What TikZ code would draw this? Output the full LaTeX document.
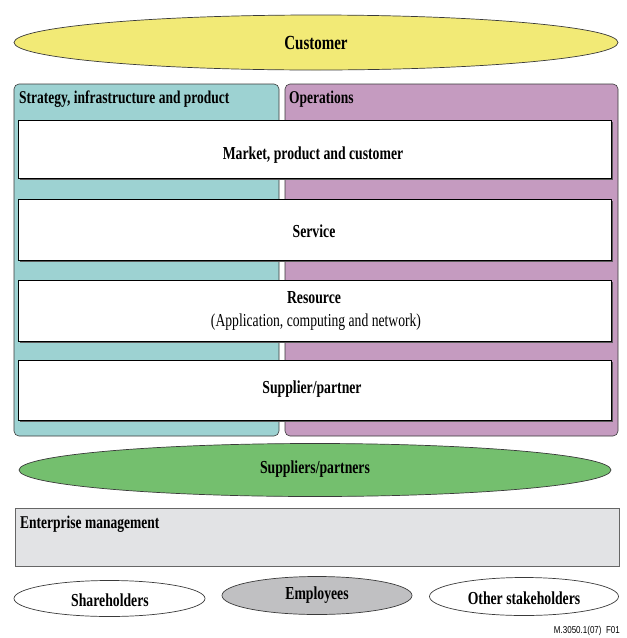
\documentclass[tikz,border=0pt]{standalone}
\usepackage{fontspec}
\setmainfont[FakeStretch=0.75]{Liberation Serif}
\newfontfamily\capfont[FakeStretch=0.8]{Liberation Sans}
\usetikzlibrary{shapes.geometric}
\definecolor{custY}{HTML}{F2EA76}
\definecolor{teal}{HTML}{9DD2D2}
\definecolor{purp}{HTML}{C59BC0}
\definecolor{grn}{HTML}{74BF6E}
\definecolor{entG}{HTML}{E2E3E5}
\definecolor{empG}{HTML}{C0C0C2}
\definecolor{edge}{HTML}{3A3A3A}
\tikzset{
  ell/.style={ellipse, draw=edge, line width=0.7pt, inner sep=0pt},
  panel/.style={draw=edge, line width=0.6pt, rounded corners=5pt},
  wbox/.style={draw=black, line width=0.8pt, fill=white, minimum width=593pt, inner sep=0pt},
  shadowbox/.style={fill=black!65, minimum width=593pt, inner sep=0pt},
  lbl/.style={font=\bfseries\fontsize{18.3}{20}\selectfont, inner sep=0pt},
  hdr/.style={font=\bfseries\fontsize{18}{20}\selectfont, inner sep=0pt, anchor=west},
}
\begin{document}
\begin{tikzpicture}[x=1pt,y=-1pt]
\useasboundingbox (0,0) rectangle (627,638);
% Customer
\node[ell, fill=custY, minimum width=604pt, minimum height=55pt] (cust) at (316,42.5) {};
\node[lbl, font=\bfseries\fontsize{20}{22}\selectfont] (custt) at (316,43) {Customer};
% panels
\draw[panel, fill=teal] (14,84) rectangle (279,436);
\draw[panel, fill=purp] (285,84) rectangle (618,436);
\node[hdr] (h1) at (19,99) {Strategy, infrastructure and product};
\node[hdr] (h2) at (289,99) {Operations};
% white boxes with shadows
\node[shadowbox, minimum height=58pt] (s1) at (316.5,151) {};
\node[wbox, minimum height=58pt] (b1) at (314.5,149) {};
\node[lbl] (t1) at (313,155) {Market, product and customer};
\node[shadowbox, minimum height=61pt] (s2) at (316.5,231.5) {};
\node[wbox, minimum height=61pt] (b2) at (314.5,229.5) {};
\node[lbl] (t2) at (314,231) {Service};
\node[shadowbox, minimum height=61pt] (s3) at (316.5,312.5) {};
\node[wbox, minimum height=61pt] (b3) at (314.5,310.5) {};
\node[lbl] (t3) at (314,298) {Resource};
\node[inner sep=0pt, font=\fontsize{18.2}{20}\selectfont] (t3b) at (316,322) {(Application, computing and network)};
\node[shadowbox, minimum height=60pt] (s4) at (316.5,392) {};
\node[wbox, minimum height=60pt] (b4) at (314.5,390) {};
\node[lbl] (t4) at (312,389) {Supplier/partner};
% suppliers ellipse
\node[ell, fill=grn, minimum width=592pt, minimum height=53pt] (sup) at (315,470) {};
\node[lbl] (supt) at (315,469) {Suppliers/partners};
% enterprise management
\draw[draw=black!60, line width=0.7pt, fill=entG] (15,508) rectangle (619,566);
\node[hdr] (ent) at (20,524) {Enterprise management};
% bottom ellipses
\node[ell, fill=white, minimum width=191pt, minimum height=36pt] (sh) at (109.5,598.5) {};
\node[lbl] (sht) at (110,600) {Shareholders};
\node[ell, fill=empG, minimum width=190pt, minimum height=38pt] (emp) at (317,595.5) {};
\node[lbl] (empt) at (317,595) {Employees};
\node[ell, fill=white, minimum width=189pt, minimum height=38pt] (oth) at (524,596.5) {};
\node[lbl] (otht) at (524,598) {Other stakeholders};
% caption
\node[inner sep=0pt, anchor=east, font=\capfont\fontsize{10}{11}\selectfont] (cap) at (620,631) {M.3050.1(07)\ \ F01};
\end{tikzpicture}
\end{document}
